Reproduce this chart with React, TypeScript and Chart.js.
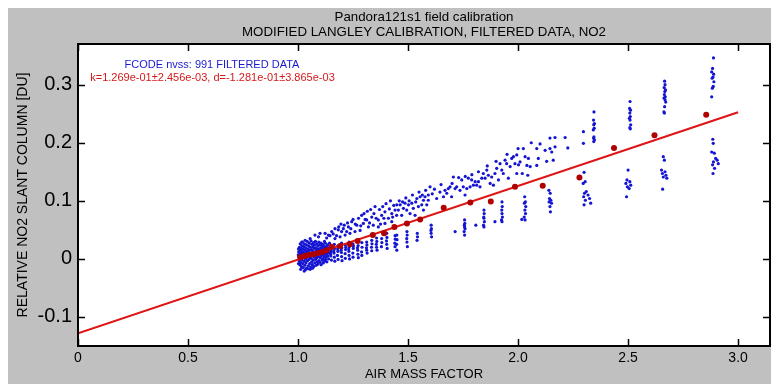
import React, { useEffect, useRef } from "react";
import { Chart, registerables } from "chart.js";

Chart.register(...registerables);

const FONT = '"Liberation Sans", Arial, sans-serif';

const titleLines = ["Pandora121s1 field calibration", "MODIFIED LANGLEY CALIBRATION, FILTERED DATA, NO2"];
const xAxisTitle = "AIR MASS FACTOR";
const yAxisTitle = "RELATIVE NO2 SLANT COLUMN [DU]";
const noteBlue = "FCODE nvss: 991 FILTERED DATA";
const noteRed = "k=1.269e-01\u00b12.456e-03, d=-1.281e-01\u00b13.865e-03";

const xTickValues = [0, 0.5, 1.0, 1.5, 2.0, 2.5, 3.0];
const yTickValues = [-0.1, 0, 0.1, 0.2, 0.3];

// dense cluster near air mass 1
const coreCluster: [number, number][] = [
  [1.003,0.012],[1.004,0.004],[1.005,-0.003],[1.006,0.020],[1.007,0.008],[1.008,-0.010],[1.009,0.015],[1.010,0.026],[1.010,0.001],[1.011,-0.006],
  [1.013,0.010],[1.014,0.018],[1.015,-0.013],[1.016,0.005],[1.017,0.023],[1.018,-0.002],[1.019,0.013],[1.020,0.029],[1.021,-0.008],[1.022,0.008],
  [1.023,0.017],[1.024,-0.015],[1.025,0.002],[1.026,0.021],[1.027,0.011],[1.028,-0.004],[1.029,0.026],[1.030,0.006],[1.031,-0.011],[1.032,0.015],
  [1.034,0.000],[1.035,0.019],[1.036,-0.007],[1.037,0.009],[1.038,0.024],[1.039,-0.016],[1.040,0.013],[1.041,0.003],[1.042,0.030],[1.043,-0.003],
  [1.045,0.017],[1.046,0.007],[1.047,-0.012],[1.048,0.022],[1.049,0.011],[1.050,-0.001],[1.051,0.027],[1.052,0.015],[1.053,-0.008],[1.054,0.004],
  [1.056,0.020],[1.057,-0.014],[1.058,0.010],[1.059,0.031],[1.060,0.001],[1.061,0.016],[1.062,-0.005],[1.063,0.025],[1.064,0.007],[1.065,-0.010],
  [1.067,0.013],[1.068,0.021],[1.069,-0.002],[1.070,0.028],[1.071,0.009],[1.072,-0.013],[1.073,0.018],[1.074,0.003],[1.075,0.024],[1.076,-0.007],
  [1.078,0.012],[1.079,0.030],[1.080,-0.001],[1.081,0.019],[1.082,0.006],[1.083,-0.011],[1.084,0.015],[1.085,0.026],[1.086,0.002],[1.087,-0.005],
  [1.089,0.010],[1.090,0.022],[1.091,-0.009],[1.092,0.017],[1.093,0.004],[1.094,0.029],[1.095,-0.003],[1.096,0.013],[1.097,0.008],[1.098,0.024],
  [1.100,-0.006],[1.101,0.018],[1.102,0.002],[1.103,0.011],[1.104,0.027],[1.105,-0.010],[1.106,0.015],[1.107,0.006],[1.108,0.021],[1.109,-0.002],
  [1.111,0.012],[1.112,0.025],[1.113,0.000],[1.114,0.017],[1.115,-0.007],[1.116,0.009],[1.117,0.022],[1.118,0.004],[1.119,0.014],[1.120,-0.004],
  [1.122,0.019],[1.123,0.007],[1.124,0.027],[1.125,-0.001],[1.126,0.012],[1.127,0.003],[1.128,0.021],[1.130,0.009],[1.131,-0.005],[1.132,0.016],
  [1.134,0.024],[1.135,0.005],[1.136,0.013],[1.138,0.019],[1.139,0.000],[1.141,0.010],[1.143,0.027],[1.145,0.016],
  [1.012,-0.018],[1.033,-0.019],[1.044,-0.017],[1.066,-0.016],[1.055,-0.018],[1.028,-0.021],[1.001,0.007],[1.002,-0.008],[1.002,0.017],
];

// vertical streaks below the fit line
const lowerStreaks: [number, number][] = [
  [1.150,0.020],[1.151,0.012],[1.149,0.005],[1.152,-0.002],[1.150,0.016],[1.148,0.008],
  [1.165,0.025],[1.166,0.018],[1.164,0.010],[1.165,0.003],[1.167,-0.004],[1.163,0.014],
  [1.180,0.022],[1.181,0.013],[1.179,0.006],[1.182,-0.001],[1.180,0.017],
  [1.198,0.027],[1.199,0.019],[1.197,0.011],[1.198,0.004],[1.200,-0.003],[1.196,0.015],
  [1.215,0.024],[1.216,0.016],[1.214,0.009],[1.215,0.001],[1.217,0.020],
  [1.232,0.029],[1.233,0.021],[1.231,0.013],[1.232,0.006],[1.234,0.000],[1.230,0.017],
  [1.250,0.026],[1.251,0.018],[1.249,0.010],[1.250,0.003],[1.252,0.022],
  [1.272,0.031],[1.273,0.023],[1.271,0.015],[1.272,0.008],[1.274,0.002],[1.270,0.019],
  [1.290,0.028],[1.291,0.020],[1.289,0.012],[1.290,0.006],
  [1.312,0.029],[1.313,0.024],[1.311,0.019],[1.312,0.015],[1.314,0.010],
  [1.335,0.032],[1.336,0.026],[1.334,0.020],[1.335,0.014],
  [1.357,0.036],[1.358,0.030],[1.356,0.025],[1.357,0.020],[1.359,0.015],
  [1.380,0.035],[1.381,0.028],[1.379,0.021],
  [1.403,0.044],[1.404,0.037],[1.402,0.031],[1.403,0.025],[1.405,0.018],
  [1.441,0.040],[1.442,0.034],[1.440,0.027],[1.441,0.021],
  [1.449,0.041],[1.450,0.033],[1.448,0.025],[1.449,0.015],
  [1.495,0.047],[1.496,0.041],[1.494,0.035],[1.495,0.029],[1.497,0.021],
  [1.542,0.044],[1.543,0.038],[1.541,0.032],
  [1.605,0.058],[1.606,0.052],[1.604,0.049],[1.605,0.044],[1.607,0.038],
  [1.714,0.047],
  [1.757,0.067],[1.758,0.061],[1.756,0.058],[1.757,0.055],[1.759,0.052],[1.755,0.047],[1.757,0.041],
  [1.808,0.058],
  [1.845,0.084],[1.846,0.078],[1.844,0.072],[1.845,0.070],[1.847,0.064],[1.843,0.058],[1.845,0.055],
  [1.895,0.064],
  [1.927,0.098],[1.928,0.090],[1.926,0.084],[1.927,0.078],[1.929,0.072],[1.925,0.067],[1.927,0.064],
  [2.030,0.107],[2.033,0.098],[2.029,0.096],[2.035,0.090],[2.031,0.084],[2.034,0.078],[2.028,0.072],[2.032,0.067],[2.017,0.068],
  [2.140,0.118],[2.146,0.113],[2.143,0.104],[2.149,0.101],[2.141,0.098],[2.152,0.096],[2.145,0.090],[2.147,0.081],
  [2.300,0.149],[2.305,0.133],[2.296,0.130],[2.310,0.116],[2.302,0.113],[2.318,0.110],[2.298,0.107],[2.325,0.104],[2.306,0.101],[2.330,0.096],[2.300,0.093],
  [2.500,0.153],[2.495,0.136],[2.508,0.133],[2.490,0.130],[2.512,0.127],[2.497,0.124],[2.505,0.121],[2.493,0.107],
  [2.660,0.176],[2.665,0.170],[2.652,0.153],[2.668,0.150],[2.656,0.147],[2.672,0.144],[2.660,0.141],[2.676,0.139],[2.657,0.120],
  [2.885,0.206],[2.887,0.199],[2.880,0.184],[2.892,0.182],[2.898,0.173],[2.905,0.170],[2.888,0.167],[2.910,0.164],[2.884,0.162],[2.893,0.156],[2.886,0.147],
];

// rising branch above the fit line
const upperBranch: [number, number][] = [
  [1.017,0.029],[1.032,0.032],[1.055,0.035],[1.077,0.041],[1.093,0.038],[1.100,0.044],[1.123,0.044],[1.138,0.041],
  [1.153,0.047],[1.168,0.052],[1.168,0.035],[1.183,0.050],[1.191,0.038],[1.198,0.047],[1.206,0.052],[1.214,0.041],
  [1.221,0.047],[1.229,0.055],[1.236,0.044],[1.244,0.064],[1.259,0.047],[1.267,0.058],[1.282,0.049],[1.289,0.075],
  [1.297,0.061],[1.312,0.067],[1.320,0.055],[1.335,0.072],[1.342,0.058],[1.350,0.090],[1.365,0.067],[1.365,0.055],
  [1.380,0.075],[1.395,0.081],[1.395,0.061],[1.411,0.070],[1.426,0.078],[1.426,0.064],[1.441,0.084],[1.448,0.075],
  [1.449,0.093],[1.456,0.084],[1.464,0.093],[1.471,0.075],[1.479,0.087],[1.486,0.096],[1.494,0.084],[1.502,0.093],
  [1.509,0.078],[1.517,0.096],[1.524,0.087],[1.532,0.075],[1.540,0.104],[1.547,0.090],[1.555,0.107],[1.562,0.093],
  [1.570,0.101],[1.570,0.084],[1.577,0.107],[1.585,0.093],[1.592,0.110],[1.600,0.124],[1.592,0.101],[1.630,0.104],
  [1.661,0.107],[1.668,0.118],[1.676,0.113],[1.683,0.121],[1.691,0.124],[1.698,0.107],[1.706,0.141],[1.714,0.121],
  [1.721,0.124],[1.736,0.118],[1.744,0.136],[1.751,0.124],[1.759,0.110],[1.767,0.121],[1.774,0.139],[1.782,0.124],
  [1.789,0.136],[1.797,0.127],[1.805,0.133],[1.812,0.127],[1.820,0.133],[1.827,0.124],[1.835,0.139],[1.842,0.147],
  [1.850,0.139],[1.858,0.153],[1.865,0.144],[1.873,0.130],[1.880,0.141],[1.888,0.127],[1.895,0.147],[1.903,0.156],
  [1.911,0.136],[1.918,0.164],[1.926,0.153],[1.933,0.147],[1.941,0.170],[1.948,0.164],[1.956,0.139],[1.964,0.159],
  [1.971,0.173],[1.979,0.176],[1.986,0.164],[1.994,0.147],[2.002,0.162],
  [1.994,0.179],[2.024,0.190],[2.009,0.167],[2.032,0.176],[2.040,0.161],[2.047,0.173],[2.019,0.147],[2.044,0.144],
  [2.055,0.159],[2.085,0.190],[2.092,0.173],[2.085,0.161],[2.123,0.187],[2.130,0.168],[2.145,0.208],[2.145,0.190],
  [2.153,0.184],[2.160,0.170],[2.168,0.209],[2.168,0.193],[2.214,0.209],[2.226,0.191],
  [1.120,0.030],[1.130,0.036],[1.145,0.040],[1.160,0.043],[1.175,0.040],[1.185,0.055],[1.195,0.060],[1.210,0.058],
  [1.225,0.062],[1.240,0.052],[1.250,0.068],[1.260,0.060],[1.275,0.070],[1.285,0.057],[1.300,0.078],[1.305,0.068],
  [1.315,0.082],[1.325,0.062],[1.330,0.085],[1.345,0.078],[1.355,0.070],[1.370,0.085],[1.375,0.060],[1.385,0.090],
  [1.390,0.070],[1.400,0.095],[1.415,0.086],[1.420,0.100],[1.430,0.072],[1.435,0.092],[1.460,0.100],[1.475,0.098],
  [1.490,0.105],[1.505,0.100],[1.520,0.110],[1.535,0.098],[1.550,0.115],[1.565,0.110],[1.580,0.118],[1.610,0.112],
  [1.620,0.120],[1.645,0.115],[1.650,0.128],[1.700,0.130],[1.730,0.140],[1.760,0.142],[1.790,0.145],[1.820,0.150],
  [1.860,0.160],[1.900,0.168],[1.950,0.180],[2.000,0.190],[2.060,0.200],[2.100,0.198],
];

// vertical streaks above the fit line at large air mass
const upperStreaks: [number, number][] = [
  [2.297,0.219],[2.297,0.199],
  [2.345,0.253],[2.343,0.239],[2.347,0.233],[2.344,0.231],[2.346,0.225],[2.342,0.222],[2.345,0.210],[2.343,0.208],[2.347,0.205],[2.344,0.202],
  [2.509,0.271],[2.507,0.259],[2.511,0.256],[2.508,0.251],[2.510,0.245],[2.506,0.242],[2.509,0.239],[2.512,0.231],[2.508,0.226],[2.510,0.224],
  [2.666,0.306],[2.668,0.300],[2.664,0.295],[2.670,0.291],[2.667,0.288],[2.665,0.283],[2.669,0.279],[2.663,0.277],[2.668,0.274],[2.671,0.270],[2.666,0.262],[2.663,0.253],[2.665,0.251],
  [2.888,0.346],[2.884,0.328],[2.880,0.322],[2.889,0.318],[2.886,0.313],[2.882,0.311],[2.890,0.305],[2.887,0.297],[2.883,0.294],[2.880,0.279],
];

// binned means (dark red dots)
const binAmf = [1.01,1.03,1.05,1.07,1.09,1.11,1.13,1.153,1.191,1.236,1.271,1.340,1.391,1.438,1.495,1.555,1.662,1.783,1.876,1.986,2.112,2.279,2.436,2.620,2.855];
const binNo2 = [0.003,0.005,0.007,0.008,0.010,0.012,0.015,0.021,0.022,0.025,0.031,0.041,0.044,0.055,0.061,0.068,0.088,0.097,0.099,0.124,0.126,0.140,0.191,0.213,0.248];

// fitted line end points
const fitAmf = [0, 3.0];
const fitNo2 = [-0.1281, 0.2526];

const toPts = (arr: [number, number][]) => arr.map(([x, y]) => ({ x, y }));

const framePlugin = {
  id: "framePlugin",
  beforeDraw(chart: any) {
    const { ctx, chartArea: a, width, height } = chart;
    ctx.save();
    ctx.fillStyle = "#c0c0c0";
    ctx.fillRect(0, 0, width, height);
    ctx.fillStyle = "#ffffff";
    ctx.fillRect(a.left, a.top, a.right - a.left, a.bottom - a.top);
    ctx.restore();
  },
  afterDatasetsDraw(chart: any) {
    const { ctx, chartArea: a, scales } = chart;
    const tl = 7;
    ctx.save();
    ctx.strokeStyle = "#000";
    ctx.lineWidth = 1.5;
    ctx.beginPath();
    for (const v of xTickValues) {
      const px = Math.round(scales.x.getPixelForValue(v)) + 0.5;
      ctx.moveTo(px, a.bottom);
      ctx.lineTo(px, a.bottom - tl);
      ctx.moveTo(px, a.top);
      ctx.lineTo(px, a.top + tl);
    }
    for (const v of yTickValues) {
      const py = Math.round(scales.y.getPixelForValue(v)) + 0.5;
      ctx.moveTo(a.left, py);
      ctx.lineTo(a.left + tl, py);
      ctx.moveTo(a.right, py);
      ctx.lineTo(a.right - tl, py);
    }
    ctx.stroke();
    ctx.lineWidth = 2;
    ctx.strokeRect(a.left, a.top, a.right - a.left, a.bottom - a.top);

    ctx.font = `11px ${FONT}`;
    ctx.textAlign = "center";
    ctx.textBaseline = "middle";
    ctx.fillStyle = "#1a1ad0";
    ctx.fillText(noteBlue, a.left + 134, a.top + 21);
    ctx.fillStyle = "#d41a1a";
    ctx.fillText(noteRed, a.left + 134.5, a.top + 34);
    ctx.restore();
  },
};

const fmtTick = (v: number) => (v === 0 ? "0" : v.toFixed(1));

export default function App() {
  const ref = useRef<HTMLCanvasElement | null>(null);

  useEffect(() => {
    if (!ref.current) return;
    const chart = new Chart(ref.current, {
      type: "scatter",
      data: {
        datasets: [
          {
            label: "bins",
            data: binAmf.map((x, i) => ({ x, y: binNo2[i] })),
            pointRadius: 3,
            pointBackgroundColor: "#b00000",
            pointBorderWidth: 0,
            borderColor: "#b00000",
            showLine: false,
            order: 0,
          } as any,
          {
            label: "fit",
            type: "line",
            data: fitAmf.map((x, i) => ({ x, y: fitNo2[i] })),
            borderColor: "#e01414",
            borderWidth: 2,
            pointRadius: 0,
            fill: false,
            order: 1,
          } as any,
          {
            label: "filtered",
            data: [...toPts(coreCluster), ...toPts(lowerStreaks), ...toPts(upperBranch), ...toPts(upperStreaks)],
            pointRadius: 1.6,
            pointBackgroundColor: "#1414d2",
            pointBorderWidth: 0,
            borderColor: "#1414d2",
            order: 2,
          } as any,
        ],
      },
      options: {
        animation: false,
        responsive: false,
        events: [],
        layout: { padding: { left: 0, right: 9, top: 0, bottom: 0 } },
        plugins: {
          legend: { display: false },
          tooltip: { enabled: false },
          title: {
            display: true,
            text: titleLines,
            fullSize: false,
            color: "#000",
            font: { family: FONT, size: 13.3, weight: "normal", lineHeight: "15px" },
            padding: { top: 2, bottom: 4 },
          },
        },
        scales: {
          x: {
            type: "linear",
            min: 0,
            max: 3.145,
            afterBuildTicks: (s: any) => {
              s.ticks = xTickValues.map((v) => ({ value: v }));
            },
            afterFit: (s: any) => {
              s.height = 38;
            },
            grid: { display: false, drawTicks: false },
            border: { display: false },
            ticks: {
              callback: (v: any) => fmtTick(Number(v)),
              color: "#000",
              font: { family: FONT, size: 14 },
              padding: 4,
              maxRotation: 0,
              autoSkip: false,
            },
            title: {
              display: true,
              text: xAxisTitle,
              color: "#000",
              font: { family: FONT, size: 13 },
              padding: { top: 0, bottom: 2 },
            },
          },
          y: {
            type: "linear",
            min: -0.15,
            max: 0.37,
            afterBuildTicks: (s: any) => {
              s.ticks = yTickValues.map((v) => ({ value: v }));
            },
            afterFit: (s: any) => {
              s.width = 70;
            },
            grid: { display: false, drawTicks: false },
            border: { display: false },
            ticks: {
              callback: (v: any) => fmtTick(Number(v)),
              color: "#000",
              font: { family: FONT, size: 20 },
              padding: 6,
              autoSkip: false,
            },
            title: {
              display: true,
              text: yAxisTitle,
              color: "#000",
              font: { family: FONT, size: 14 },
              padding: { top: 7, bottom: 0 },
            },
          },
        },
      } as any,
      plugins: [framePlugin],
    });
    return () => chart.destroy();
  }, []);

  return <canvas ref={ref} width={771} height={376} style={{ display: "block" }} />;
}
